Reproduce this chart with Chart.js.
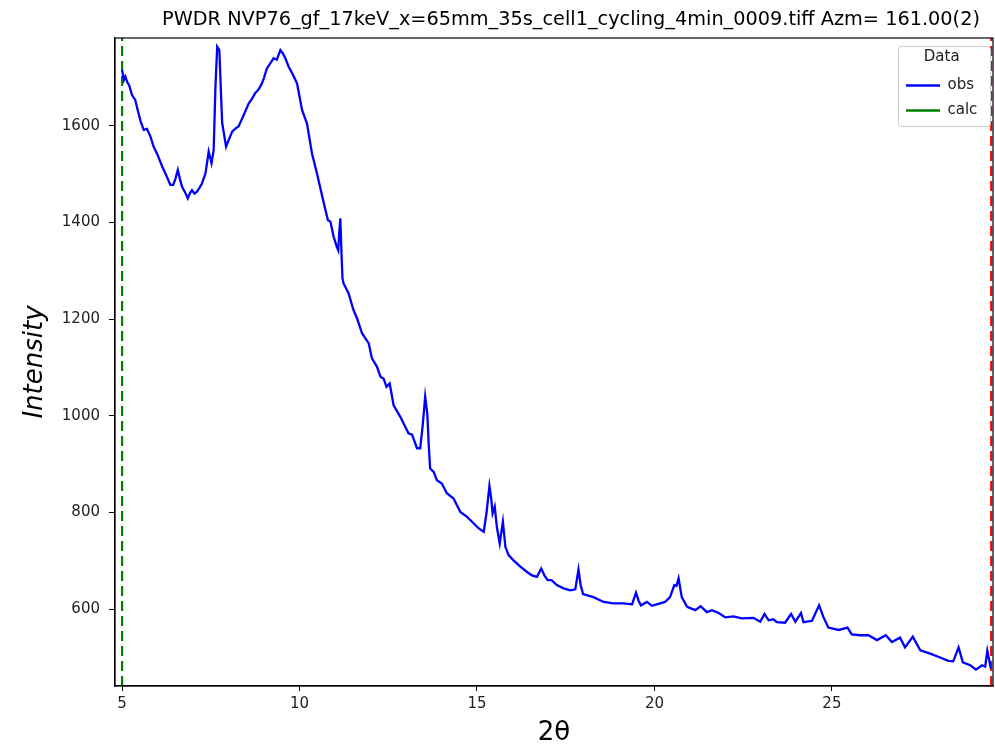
<!DOCTYPE html>
<html lang="en">
<head>
<meta charset="UTF-8">
<title>PWDR NVP76 intensity</title>
<script src="https://cdn.jsdelivr.net/npm/chart.js"></script>
<style>
  html, body { margin: 0; padding: 0; background: #fff; }
</style>
</head>
<body>
<canvas id="pwdrChart" width="995" height="748"></canvas>
<script>
const twoTheta = [
  5.00, 5.05, 5.09, 5.15, 5.20, 5.28, 5.37, 5.45, 5.52, 5.61, 5.70, 5.80, 5.89, 6.00, 6.13, 6.25,
  6.36, 6.44, 6.50, 6.57, 6.63, 6.69, 6.78, 6.85, 6.92, 6.97, 7.04, 7.11, 7.18, 7.25, 7.35, 7.44,
  7.52, 7.58, 7.63, 7.68, 7.74, 7.78, 7.82, 7.93, 8.00, 8.10, 8.20, 8.28, 8.35, 8.43, 8.57, 8.65,
  8.75, 8.85, 8.94, 9.00, 9.08, 9.18, 9.27, 9.36, 9.46, 9.53, 9.60, 9.69, 9.80, 9.93, 10.07, 10.21,
  10.35, 10.49, 10.63, 10.73, 10.80, 10.87, 10.96, 11.05, 11.09, 11.12, 11.15, 11.18, 11.21, 11.24,
  11.38, 11.52, 11.62, 11.76, 11.95, 12.04, 12.18, 12.28, 12.37, 12.45, 12.54, 12.65, 12.84, 13.07,
  13.17, 13.31, 13.40, 13.47, 13.54, 13.60, 13.64, 13.68, 13.78, 13.87, 14.01, 14.15, 14.34, 14.53,
  14.72, 14.86, 15.05, 15.19, 15.27, 15.35, 15.40, 15.44, 15.50, 15.56, 15.64, 15.73, 15.80, 15.89,
  16.03, 16.22, 16.41, 16.55, 16.69, 16.81, 16.90, 16.99, 17.10, 17.25, 17.44, 17.63, 17.77, 17.86,
  17.92, 17.99, 18.28, 18.57, 18.85, 19.13, 19.37, 19.48, 19.55, 19.62, 19.79, 19.93, 20.16, 20.30,
  20.44, 20.56, 20.62, 20.68, 20.77, 20.92, 21.15, 21.30, 21.48, 21.62, 21.81, 22.00, 22.23, 22.46,
  22.79, 22.98, 23.10, 23.22, 23.35, 23.45, 23.68, 23.85, 23.97, 24.13, 24.20, 24.44, 24.64, 24.76,
  24.90, 25.19, 25.44, 25.56, 25.80, 26.03, 26.27, 26.52, 26.69, 26.92, 27.06, 27.28, 27.49, 27.77,
  28.05, 28.28, 28.42, 28.57, 28.69, 28.90, 29.06, 29.23, 29.32, 29.38, 29.48
];
const intensity = [
  1716, 1695, 1702, 1690, 1684, 1664, 1654, 1630, 1610, 1592, 1594, 1578, 1557, 1540, 1516, 1497,
  1478, 1478, 1490, 1509, 1490, 1474, 1462, 1450, 1462, 1467, 1460, 1464, 1472, 1481, 1502, 1547,
  1523, 1550, 1680, 1764, 1757, 1680, 1606, 1557, 1570, 1588, 1595, 1599, 1610, 1623, 1647, 1655,
  1668, 1676, 1688, 1700, 1719, 1730, 1740, 1737, 1757, 1750, 1740, 1723, 1708, 1688, 1633, 1605,
  1543, 1502, 1457, 1426, 1405, 1402, 1371, 1350, 1343, 1380, 1409, 1340, 1285, 1274,
  1254, 1219, 1202, 1171, 1150, 1119, 1102, 1081, 1077, 1060, 1067, 1022, 998, 964,
  961, 933, 933, 980, 1040, 1004, 940, 891, 884, 867, 860, 840, 829, 801,
  791, 781, 767, 760, 800, 855, 830, 798, 812, 770, 736, 781, 729, 712,
  701, 688, 677, 670, 667, 684, 670, 660, 660, 650, 643, 639, 641, 682,
  650, 631, 625, 615, 612, 612, 610, 634, 618, 608, 615, 607, 612, 615,
  625, 650, 648, 664, 625, 605, 598, 606, 594, 598, 592, 583, 585, 581,
  582, 574, 590, 577, 579, 573, 572, 590, 574, 592, 573, 576, 608, 584,
  562, 557, 562, 548, 546, 546, 536, 546, 532, 541, 521, 543, 515, 508,
  500, 493, 492, 521, 490, 484, 475, 484, 481, 514, 477
];
const calcValues = [];          // calc series has no points in view
const limitLow = 5.0;           // green dashed marker
const limitHigh = 29.49;        // red dashed marker
const xTicks = [5, 10, 15, 20, 25];
const yTicks = [600, 800, 1000, 1200, 1400, 1600];
const xRange = [4.80, 29.54];
const yRange = [441, 1782];
const titleText = 'PWDR NVP76_gf_17keV_x=65mm_35s_cell1_cycling_4min_0009.tiff Azm= 161.00(2)';

Chart.defaults.font.family = "'DejaVu Sans', sans-serif";
Chart.defaults.color = '#222';

// frame, title and legend border, matplotlib style
const framePlugin = {
  id: 'frame',
  afterLayout(chart) {
    const lg = chart.legend, ca = chart.chartArea;
    lg.left = ca.right - 97;
    lg.right = lg.left + lg.width;
    lg.top = ca.top + 8;
    lg.bottom = ca.bottom;
  },
  afterDraw(chart) {
    const ctx = chart.ctx, ca = chart.chartArea;
    ctx.save();
    ctx.strokeStyle = '#000';
    ctx.lineWidth = 1.2;
    ctx.strokeRect(ca.left, ca.top, ca.right - ca.left, ca.bottom - ca.top);

    // legend frame
    const bx = 898, by = 46, bw = 92, bh = 80, r = 3;
    ctx.strokeStyle = '#cccccc';
    ctx.lineWidth = 1;
    ctx.beginPath();
    ctx.roundRect(bx + 0.5, by + 0.5, bw, bh, r);
    ctx.stroke();

    ctx.fillStyle = '#000';
    ctx.font = "19.3px 'DejaVu Sans', sans-serif";
    ctx.textAlign = 'center';
    ctx.textBaseline = 'middle';
    ctx.fillText(titleText, 571, 20);
    ctx.restore();
  }
};

const ctx = document.getElementById('pwdrChart').getContext('2d');
new Chart(ctx, {
  type: 'line',
  data: {
    datasets: [
      {
        label: 'obs',
        data: twoTheta.map((t, i) => ({ x: t, y: intensity[i] })),
        borderColor: '#0000ff',
        backgroundColor: '#0000ff',
        borderWidth: 2.3,
        pointRadius: 0,
        tension: 0
      },
      {
        label: 'calc',
        data: calcValues,
        borderColor: '#008000',
        backgroundColor: '#008000',
        borderWidth: 2.3,
        pointRadius: 0
      },
      {
        label: 'low',
        data: [{ x: limitLow, y: yRange[0] }, { x: limitLow, y: yRange[1] }],
        borderColor: '#008000',
        borderWidth: 2.2,
        borderDash: [10, 5],
        pointRadius: 0
      },
      {
        label: 'high',
        data: [{ x: limitHigh, y: yRange[0] }, { x: limitHigh, y: yRange[1] }],
        borderColor: '#ff0000',
        borderWidth: 2.2,
        borderDash: [10, 5],
        pointRadius: 0
      }
    ]
  },
  options: {
    responsive: false,
    animation: false,
    devicePixelRatio: 1,
    layout: { padding: { top: 38, right: 2, left: 0, bottom: 0 } },
    plugins: {
      title: { display: false },
      tooltip: { enabled: false },
      legend: {
        display: true,
        position: 'chartArea',
        align: 'start',
        title: {
          display: true,
          text: 'Data',
          color: '#222',
          font: { size: 15 },
          padding: { top: 4, bottom: 0 }
        },
        labels: {
          usePointStyle: true,
          pointStyle: 'line',
          pointStyleWidth: 34,
          padding: 10,
          color: '#222',
          font: { size: 15 },
          filter: item => item.datasetIndex < 2
        }
      }
    },
    scales: {
      x: {
        type: 'linear',
        min: xRange[0],
        max: xRange[1],
        afterFit: s => { s.height = 62; },
        afterBuildTicks: s => { s.ticks = xTicks.map(v => ({ value: v })); },
        grid: { drawOnChartArea: false, drawTicks: true, tickLength: 5, color: '#000' },
        border: { color: '#000', width: 1.2 },
        ticks: { font: { size: 15 }, color: '#222', padding: 4, maxRotation: 0, callback: v => String(v) },
        title: {
          display: true,
          text: '2θ',
          color: '#000',
          font: { size: 26, lineHeight: 1.15 },
          padding: { top: 0, bottom: 0 }
        }
      },
      y: {
        type: 'linear',
        min: yRange[0],
        max: yRange[1],
        afterFit: s => { s.width = 115; },
        afterBuildTicks: s => { s.ticks = yTicks.map(v => ({ value: v })); },
        grid: { drawOnChartArea: false, drawTicks: true, tickLength: 6, color: '#000' },
        border: { color: '#000', width: 1.2 },
        ticks: { font: { size: 15 }, color: '#222', padding: 9, callback: v => String(v) },
        title: {
          display: true,
          text: 'Intensity',
          color: '#000',
          font: { size: 26, style: 'italic', lineHeight: 1.15 },
          padding: { top: 20, bottom: 0 }
        }
      }
    }
  },
  plugins: [framePlugin]
});
</script>
</body>
</html>
